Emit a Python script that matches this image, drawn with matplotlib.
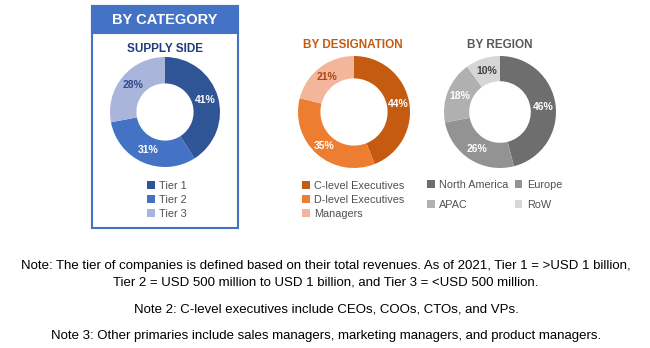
import matplotlib.pyplot as plt
import matplotlib.patches as mpatches

plt.rcParams['font.family'] = ['Liberation Sans', 'DejaVu Sans']

# data
cat_labels = ['Tier 1', 'Tier 2', 'Tier 3']
cat_values = [41, 31, 28]
cat_colors = ['#2F5597', '#4472C4', '#A9B5DB']
cat_text = ['white', 'white', '#2F4A8A']

des_labels = ['C-level Executives', 'D-level Executives', 'Managers']
des_values = [44, 35, 21]
des_colors = ['#C55A11', '#ED7D31', '#F4B69A']
des_text = ['white', 'white', '#A8480E']

reg_labels = ['North America', 'Europe', 'APAC', 'RoW']
reg_values = [46, 26, 18, 10]
reg_colors = ['#6E6E6E', '#939393', '#B0B0B0', '#D6D6D6']
reg_text = ['white', 'white', 'white', '#404040']

notes = [
    'Note: The tier of companies is defined based on their total revenues. As of 2021, Tier 1 = >USD 1 billion,\n'
    'Tier 2 = USD 500 million to USD 1 billion, and Tier 3 = <USD 500 million.',
    'Note 2: C-level executives include CEOs, COOs, CTOs, and VPs.',
    'Note 3: Other primaries include sales managers, marketing managers, and product managers.',
]

W, H = 650, 348
fig = plt.figure(figsize=(W / 100, H / 100), dpi=100)


def fx(x):
    return x / W


def fy(y):
    return 1 - y / H


def donut(cx, cy, r, values, colors, tcolors, hole):
    ax = fig.add_axes([fx(cx - r), fy(cy + r), 2 * r / W, 2 * r / H])
    wedges, _, autotexts = ax.pie(values, colors=colors, startangle=90, counterclock=False,
                                  autopct='%d%%', pctdistance=(1 + hole) / 2,
                                  wedgeprops=dict(width=1 - hole, edgecolor='none'))
    for t, c in zip(autotexts, tcolors):
        t.set_color(c)
        t.set_fontsize(7.5)
        t.set_fontweight('bold')
    ax.set_xlim(-1, 1)
    ax.set_ylim(-1, 1)
    ax.set_aspect('auto')
    ax.axis('off')
    return ax, wedges


# category box
fig.patches.append(mpatches.Rectangle((fx(92), fy(228)), 146 / W, 222 / H, transform=fig.transFigure,
                                      fill=False, edgecolor='#4472C4', lw=1.5))
fig.patches.append(mpatches.Rectangle((fx(92), fy(33)), 146 / W, 27 / H, transform=fig.transFigure,
                                      facecolor='#4472C4', edgecolor='#4472C4', lw=1.5))
fig.text(fx(165), fy(19.5), 'BY CATEGORY', color='white', fontsize=10.5, fontweight='bold',
         ha='center', va='center')
fig.text(fx(165), fy(49), 'SUPPLY SIDE', color='#1F3D7A', fontsize=8.5, fontweight='bold',
         ha='center', va='center')
fig.text(fx(353), fy(45), 'BY DESIGNATION', color='#C55A11', fontsize=8.5, fontweight='bold',
         ha='center', va='center')
fig.text(fx(500), fy(45), 'BY REGION', color='#595959', fontsize=8.5, fontweight='bold',
         ha='center', va='center')

ax1, w1 = donut(165, 112, 55, cat_values, cat_colors, cat_text, 0.52)
ax2, w2 = donut(354, 112, 56, des_values, des_colors, des_text, 0.6)
ax3, w3 = donut(500, 112, 56, reg_values, reg_colors, reg_text, 0.55)

leg_kw = dict(frameon=False, fontsize=7.8, labelcolor='#505050', handlelength=0.7, handleheight=0.7,
              handletextpad=0.4, labelspacing=0.35, borderpad=0, borderaxespad=0,
              loc='upper left', bbox_transform=fig.transFigure)
fig.legend(w1, cat_labels, bbox_to_anchor=(fx(147), fy(181)), **leg_kw)
fig.legend(w2, des_labels, bbox_to_anchor=(fx(302), fy(181)), **leg_kw)
# row-wise order for the two-column region legend
order = [0, 2, 1, 3]
fig.legend([w3[i] for i in order], [reg_labels[i] for i in order],
           bbox_to_anchor=(fx(427), fy(180)), ncol=2, columnspacing=0.6,
           **dict(leg_kw, labelspacing=0.9))

fig.text(fx(326), fy(274), notes[0], fontsize=9.5, ha='center', va='center', linespacing=1.55)
fig.text(fx(326), fy(309), notes[1], fontsize=9.5, ha='center', va='center')
fig.text(fx(326), fy(336), notes[2], fontsize=9.5, ha='center', va='center')

fig.savefig('out.png', dpi=100, facecolor='white')
